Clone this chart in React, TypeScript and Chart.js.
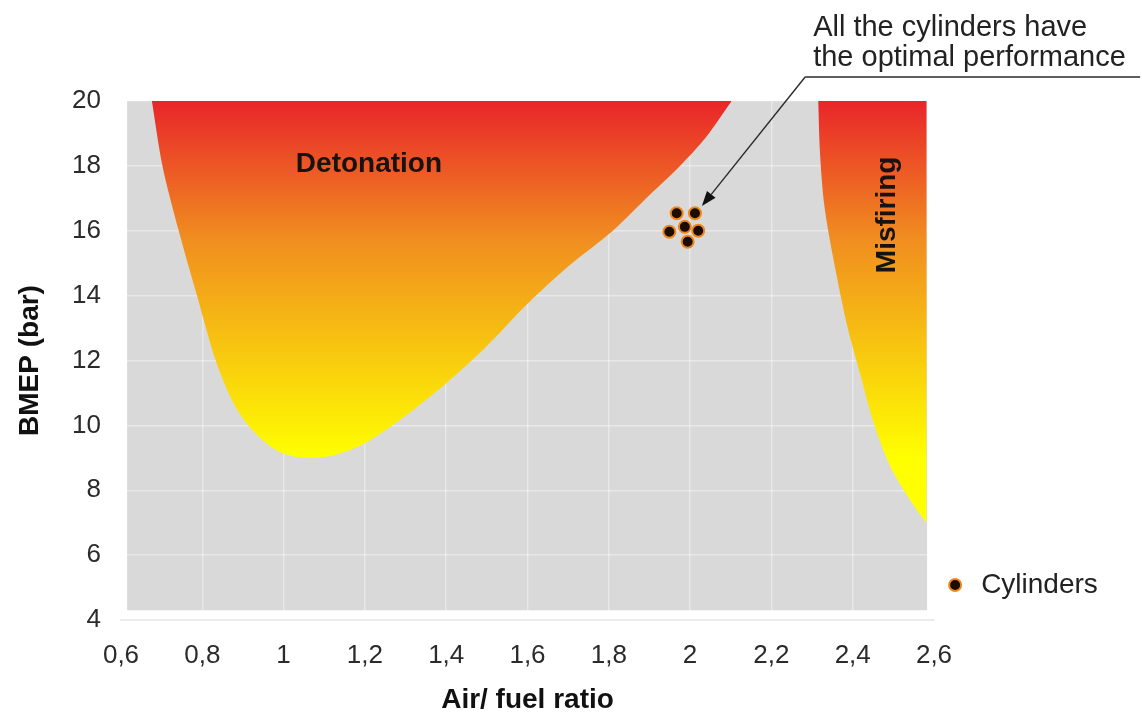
import React, { useEffect, useRef } from 'react';
import Chart from 'chart.js/auto';

// ---- data ----
const xTickLabels = ['0,6', '0,8', '1', '1,2', '1,4', '1,6', '1,8', '2', '2,2', '2,4', '2,6'];
const yTickLabels = ['4', '6', '8', '10', '12', '14', '16', '18', '20'];

// lower boundary of the detonation zone (air/fuel ratio, BMEP)
const detonationX = [0.676, 0.702, 0.742, 0.787, 0.833, 0.872, 0.907, 0.948, 0.99, 1.03, 1.08, 1.13, 1.2, 1.3, 1.4, 1.5, 1.6, 1.7, 1.81, 1.9, 1.975, 2.04, 2.102];
const detonationY = [20, 18, 16, 14, 12, 10.8, 10.1, 9.55, 9.18, 9.03, 9.0, 9.1, 9.45, 10.3, 11.3, 12.45, 13.75, 14.9, 16.0, 17.1, 18.0, 18.9, 20];

// lower/left boundary of the misfiring zone
const misfiringX = [2.315, 2.32, 2.33, 2.35, 2.385, 2.418, 2.451, 2.492, 2.541, 2.582];
const misfiringY = [20, 18.3, 16.8, 15.3, 13.15, 11.6, 10.1, 8.75, 7.7, 6.98];

// cylinders operating points
const cylinderX = [1.967, 2.012, 1.949, 1.987, 2.02, 1.994];
const cylinderY = [16.54, 16.54, 15.97, 16.12, 16.0, 15.66];

// grey panel extents (data units)
const panelX = [0.615, 2.583];
const panelY = [4.3, 20];

// annotation anchors (data units)
const labelDetonation = { x: 1.21, y: 18.06, text: 'Detonation' };
const labelMisfiring = { x: 2.484, y: 16.49, text: 'Misfiring' };
const arrowTail = { x: 2.283, y: 20.74 };
const arrowTip = { x: 2.029, y: 16.76 };
const noteLines = ['All the cylinders have', 'the optimal performance'];
const legendAnchor = { x: 2.652, y: 5.08 };

const FONT = "'Liberation Sans', Arial, Helvetica, sans-serif";

const toPoints = (xs: number[], ys: number[]) => xs.map((x, i) => ({ x, y: ys[i] }));

function zoneGradient(context: any) {
  const chart = context.chart;
  const { chartArea } = chart;
  if (!chartArea) return '#f08c20';
  const ys = chart.scales.y;
  const g = chart.ctx.createLinearGradient(0, ys.getPixelForValue(20), 0, ys.getPixelForValue(9));
  g.addColorStop(0, '#e9252a');
  g.addColorStop(0.38, '#f08c20');
  g.addColorStop(1, '#ffff00');
  return g;
}

const panelPlugin = {
  id: 'panelBg',
  beforeDraw(chart: any) {
    const { ctx, scales } = chart;
    const x0 = scales.x.getPixelForValue(panelX[0]);
    const x1 = scales.x.getPixelForValue(panelX[1]);
    const y0 = scales.y.getPixelForValue(panelY[1]);
    const y1 = scales.y.getPixelForValue(panelY[0]);
    ctx.save();
    ctx.fillStyle = '#d9d9d9';
    ctx.fillRect(x0, y0, x1 - x0, y1 - y0);
    ctx.restore();
  },
};

const annotationPlugin = {
  id: 'notes',
  afterDraw(chart: any) {
    const { ctx, scales } = chart;
    const px = (v: number) => scales.x.getPixelForValue(v);
    const py = (v: number) => scales.y.getPixelForValue(v);
    ctx.save();
    // region labels
    ctx.fillStyle = '#161310';
    ctx.font = `bold 28px ${FONT}`;
    ctx.textAlign = 'center';
    ctx.textBaseline = 'middle';
    ctx.fillText(labelDetonation.text, px(labelDetonation.x), py(labelDetonation.y));
    ctx.save();
    ctx.translate(px(labelMisfiring.x), py(labelMisfiring.y));
    ctx.rotate(-Math.PI / 2);
    ctx.fillText(labelMisfiring.text, 0, 0);
    ctx.restore();

    // arrow + underline + note
    const tx = px(arrowTail.x), ty = py(arrowTail.y);
    const hx = px(arrowTip.x), hy = py(arrowTip.y);
    ctx.strokeStyle = '#2a2a2a';
    ctx.lineWidth = 1.4;
    ctx.beginPath();
    ctx.moveTo(tx, ty);
    ctx.lineTo(tx + 335, ty);
    ctx.stroke();
    const ang = Math.atan2(hy - ty, hx - tx);
    const headLen = 15, headW = 5.5;
    const bx = hx - Math.cos(ang) * headLen, by = hy - Math.sin(ang) * headLen;
    ctx.beginPath();
    ctx.moveTo(tx, ty);
    ctx.lineTo(bx, by);
    ctx.stroke();
    ctx.fillStyle = '#111';
    ctx.beginPath();
    ctx.moveTo(hx, hy);
    ctx.lineTo(bx + Math.sin(ang) * headW, by - Math.cos(ang) * headW);
    ctx.lineTo(bx - Math.sin(ang) * headW, by + Math.cos(ang) * headW);
    ctx.closePath();
    ctx.fill();

    ctx.fillStyle = '#222';
    ctx.font = `29px ${FONT}`;
    ctx.textAlign = 'left';
    ctx.textBaseline = 'alphabetic';
    ctx.fillText(noteLines[0], tx + 8, ty - 41);
    ctx.fillText(noteLines[1], tx + 8, ty - 11);

    // legend
    const ds = chart.data.datasets[2];
    const lx = px(legendAnchor.x), ly = py(legendAnchor.y);
    ctx.beginPath();
    ctx.arc(lx, ly, 6, 0, Math.PI * 2);
    ctx.fillStyle = ds.backgroundColor;
    ctx.fill();
    ctx.lineWidth = 2;
    ctx.strokeStyle = ds.borderColor;
    ctx.stroke();
    ctx.fillStyle = '#222';
    ctx.font = `28px ${FONT}`;
    ctx.textBaseline = 'middle';
    ctx.fillText(ds.label, lx + 26, ly);
    ctx.restore();
  },
};

export default function App() {
  const ref = useRef<HTMLCanvasElement | null>(null);
  useEffect(() => {
    if (!ref.current) return;
    Chart.defaults.font.family = FONT;
    const chart = new Chart(ref.current, {
      type: 'line',
      data: {
        datasets: [
          {
            label: 'Detonation',
            data: toPoints(detonationX, detonationY),
            borderWidth: 0,
            pointRadius: 0,
            fill: 'end',
            tension: 0.3,
            backgroundColor: zoneGradient,
            borderColor: 'rgba(0,0,0,0)',
          },
          {
            label: 'Misfiring',
            data: toPoints(misfiringX, misfiringY),
            borderWidth: 0,
            pointRadius: 0,
            fill: 'end',
            tension: 0.3,
            backgroundColor: zoneGradient,
            borderColor: 'rgba(0,0,0,0)',
          },
          {
            label: 'Cylinders',
            data: toPoints(cylinderX, cylinderY),
            showLine: false,
            pointRadius: 6,
            pointBorderWidth: 2,
            backgroundColor: '#1b0c02',
            borderColor: '#f0861c',
            pointBackgroundColor: '#1b0c02',
            pointBorderColor: '#f0861c',
            fill: false,
          },
        ],
      },
      options: {
        animation: false,
        responsive: false,
        events: [],
        layout: { padding: { left: 0, top: 101, right: 208, bottom: 0 } },
        plugins: {
          legend: { display: false },
          tooltip: { enabled: false },
        },
        scales: {
          x: {
            type: 'linear',
            min: 0.6,
            max: 2.6,
            ticks: {
              stepSize: 0.2,
              padding: 20,
              autoSkip: false,
              maxRotation: 0,
              color: '#2b2b2b',
              font: { size: 26 },
              callback: (_v: any, i: number) => xTickLabels[i],
            },
            grid: { color: 'rgba(255,255,255,0.4)', lineWidth: 1.5, drawTicks: false },
            border: { display: true, color: '#ebebeb', width: 2 },
            title: {
              display: true,
              text: 'Air/ fuel ratio',
              color: '#111',
              font: { size: 28, weight: 'bold' },
              padding: { top: 0, bottom: 1 },
            },
            afterFit: (s: any) => { s.height = 98; },
          },
          y: {
            min: 4,
            max: 20,
            ticks: {
              stepSize: 2,
              padding: 20,
              color: '#2b2b2b',
              font: { size: 26 },
              callback: (_v: any, i: number) => yTickLabels[i],
            },
            grid: { color: 'rgba(255,255,255,0.4)', lineWidth: 1.5, drawTicks: false },
            border: { display: false },
            title: {
              display: true,
              text: 'BMEP (bar)',
              color: '#111',
              font: { size: 28, weight: 'bold' },
              padding: { top: 13, bottom: 0 },
            },
            afterFit: (s: any) => { s.width = 121; },
          },
        },
      } as any,
      plugins: [panelPlugin, annotationPlugin],
    });
    return () => chart.destroy();
  }, []);
  return (
    <div style={{ position: 'fixed', left: 0, top: 0, width: 1142, height: 718, background: '#fff' }}>
      <canvas ref={ref} width={1142} height={718} style={{ width: 1142, height: 718 }} />
    </div>
  );
}
